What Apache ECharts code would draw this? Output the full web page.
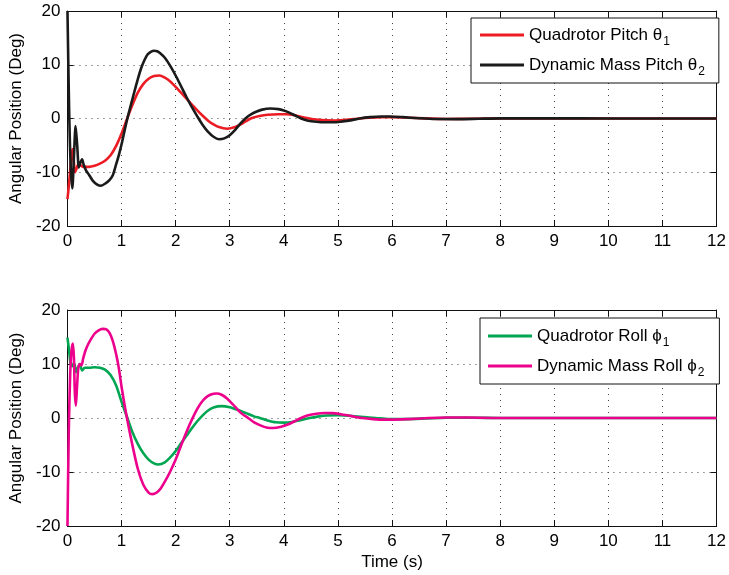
<!DOCTYPE html>
<html>
<head>
<meta charset="utf-8">
<script src="https://cdn.jsdelivr.net/npm/echarts@6/dist/echarts.min.js"></script>
<style>
  html, body { margin: 0; padding: 0; background: #fff; }
  #chart { width: 729px; height: 575px; }
</style>
</head>
<body>
<div id="chart"></div>
<script>
// Pitch response (deg) of the quadrotor body and the dynamic mass
const pitchQuadT = [0, 0.03, 0.06, 0.09, 0.11, 0.14, 0.17, 0.2, 0.24, 0.3, 0.4, 0.5, 0.6, 0.7, 0.8, 0.9, 1.0, 1.1, 1.2, 1.3, 1.4, 1.5, 1.6, 1.7, 1.8, 1.9, 2.0, 2.1, 2.2, 2.3, 2.4, 2.5, 2.6, 2.7, 2.8, 2.95, 3.1, 3.2, 3.3, 3.4, 3.55, 3.7, 3.9, 4.05, 4.2, 4.35, 4.47, 4.6, 4.8, 4.95, 5.1, 5.3, 5.5, 5.8, 6.0, 6.3, 6.6, 7.0, 7.5, 8, 9, 10, 12];
const pitchQuad = [-15, -12, -8.5, -5.7, -7, -10, -9.3, -8.5, -8.7, -9.0, -9.0, -8.8, -8.4, -7.8, -6.8, -5.1, -2.8, -0.1, 2.5, 4.8, 6.4, 7.4, 7.9, 8.0, 7.6, 6.9, 5.9, 4.8, 3.7, 2.6, 1.5, 0.5, -0.4, -1.1, -1.6, -1.9, -1.6, -1.1, -0.5, 0.05, 0.45, 0.7, 0.8, 0.8, 0.6, 0.25, 0, -0.2, -0.35, -0.37, -0.3, -0.1, 0.1, 0.23, 0.25, 0.15, 0.02, -0.08, -0.05, 0.02, 0.02, 0, 0];

const pitchMassT = [0, 0.03, 0.06, 0.09, 0.12, 0.15, 0.18, 0.21, 0.24, 0.27, 0.3, 0.35, 0.4, 0.47, 0.55, 0.62, 0.7, 0.78, 0.84, 0.9, 0.95, 1.0, 1.05, 1.11, 1.18, 1.24, 1.3, 1.36, 1.42, 1.48, 1.54, 1.6, 1.66, 1.72, 1.8, 1.9, 2.0, 2.1, 2.2, 2.3, 2.4, 2.5, 2.6, 2.7, 2.8, 2.9, 3.0, 3.1, 3.2, 3.3, 3.4, 3.5, 3.6, 3.75, 3.9, 4.0, 4.1, 4.2, 4.32, 4.45, 4.6, 4.75, 4.9, 5.05, 5.2, 5.4, 5.6, 5.8, 5.95, 6.2, 6.5, 6.8, 7.2, 7.6, 8, 9, 10, 11, 12];
const pitchMass = [20, 2, -9, -13, -7, -1.4, -5, -9.1, -8.2, -7.6, -8.6, -9.8, -10.5, -11.6, -12.3, -12.5, -12.1, -11.4, -10.5, -8.5, -6.8, -4.8, -2.5, 0.1, 2.8, 5.1, 7.3, 9.3, 10.8, 11.9, 12.4, 12.6, 12.5, 12.1, 11.3, 9.8, 8.0, 6.0, 4.0, 2.1, 0.4, -1.2, -2.5, -3.4, -3.85, -3.7, -3.1, -2.1, -0.9, 0.1, 0.8, 1.3, 1.65, 1.85, 1.75, 1.5, 1.1, 0.6, 0, -0.4, -0.6, -0.7, -0.7, -0.6, -0.4, 0, 0.25, 0.37, 0.37, 0.25, 0.05, -0.1, -0.12, -0.05, 0.03, 0.03, 0, 0, 0];

// Roll response (deg) of the quadrotor body and the dynamic mass
const rollQuadT = [0, 0.03, 0.06, 0.09, 0.12, 0.165, 0.2, 0.23, 0.27, 0.32, 0.4, 0.5, 0.6, 0.7, 0.8, 0.9, 1.0, 1.09, 1.2, 1.3, 1.4, 1.5, 1.6, 1.68, 1.8, 1.9, 2.0, 2.1, 2.2, 2.3, 2.4, 2.5, 2.6, 2.7, 2.85, 3.0, 3.15, 3.3, 3.45, 3.56, 3.7, 3.85, 4.0, 4.15, 4.3, 4.48, 4.65, 4.8, 5.0, 5.2, 5.45, 5.7, 5.95, 6.2, 6.6, 7.0, 7.5, 8, 9, 10, 12];
const rollQuad = [14.9, 12.5, 10, 9.6, 10.2, 8.5, 9.5, 10, 8.8, 9.3, 9.3, 9.4, 9.3, 8.9, 7.9, 6.0, 3.0, 0.5, -2.6, -4.8, -6.5, -7.7, -8.4, -8.6, -8.2, -7.3, -6.1, -4.7, -3.3, -1.9, -0.6, 0.5, 1.4, 1.95, 2.2, 2.0, 1.5, 0.9, 0.3, 0, -0.45, -0.8, -0.86, -0.75, -0.4, 0, 0.3, 0.45, 0.5, 0.42, 0.2, 0, -0.2, -0.2, -0.1, 0.05, 0.06, 0, 0, 0, 0];

const rollMassT = [0, 0.025, 0.05, 0.075, 0.1, 0.12, 0.135, 0.155, 0.175, 0.2, 0.23, 0.26, 0.29, 0.33, 0.38, 0.44, 0.5, 0.57, 0.65, 0.72, 0.78, 0.84, 0.9, 0.95, 1.0, 1.09, 1.2, 1.3, 1.4, 1.5, 1.57, 1.65, 1.72, 1.8, 1.9, 2.0, 2.1, 2.2, 2.3, 2.4, 2.5, 2.6, 2.7, 2.76, 2.85, 2.95, 3.05, 3.2, 3.34, 3.45, 3.6, 3.7, 3.8, 3.95, 4.1, 4.2, 4.32, 4.45, 4.6, 4.75, 4.9, 5.05, 5.25, 5.45, 5.65, 5.85, 6.0, 6.3, 6.6, 7.0, 7.4, 8, 9, 12];
const rollMass = [-20, -2, 8, 12.5, 13.8, 11, 5, 2.3, 5.5, 9.2, 10, 9.8, 11, 12.4, 13.6, 14.7, 15.6, 16.2, 16.5, 16.4, 15.7, 14.2, 11.8, 9.2, 5.8, 0.5, -5.0, -9.4, -12.3, -13.8, -14.1, -13.8, -13.1, -11.8, -9.9, -7.7, -5.1, -2.6, -0.3, 1.7, 3.2, 4.1, 4.5, 4.55, 4.3, 3.6, 2.6, 1.0, 0, -0.8, -1.5, -1.8, -1.85, -1.6, -1.1, -0.6, 0, 0.5, 0.8, 0.93, 0.9, 0.7, 0.35, 0, -0.2, -0.3, -0.3, -0.2, -0.05, 0.1, 0.08, 0, 0, 0];

// Legend labels: main text and subscript
const seriesNames = ['Quadrotor Pitch', 'Dynamic Mass Pitch', 'Quadrotor Roll', 'Dynamic Mass Roll'];
const legendMain = ['Quadrotor Pitch \u03b8', 'Dynamic Mass Pitch \u03b8', 'Quadrotor Roll \u03d5', 'Dynamic Mass Roll \u03d5'];
const legendSub = ['1', '2', '1', '2'];

const timeRange = [0, 12];
const angleRange = [-20, 20];
const yTitle = 'Angular Position (Deg)';
const xTitle = 'Time (s)';

const FONT = '"Liberation Sans", Arial, Helvetica, sans-serif';
const zip = (t, v) => t.map((x, i) => [x, v[i]]);

function baseAxis(extra) {
  return Object.assign({
    type: 'value',
    axisLine: { show: true, onZero: false, lineStyle: { color: '#111', width: 1 } },
    axisTick: { show: true, inside: true, length: 6, lineStyle: { color: '#111', width: 1 } },
    axisLabel: { show: true, color: '#000', fontSize: 17, fontFamily: FONT, margin: 7 },
    splitLine: { show: true, lineStyle: { color: '#444', width: 1, type: [1, 5] } }
  }, extra);
}
function mirrorAxis(extra) {
  const a = baseAxis(extra);
  a.axisLabel = { show: false };
  a.splitLine = { show: false };
  return a;
}

const xOpts = { min: timeRange[0], max: timeRange[1], interval: 1 };
const yOpts = { min: angleRange[0], max: angleRange[1], interval: 10 };

// subscript pushed down by top padding inside a fixed-height line
const legendRich = {
  m: { fontSize: 17, fontFamily: FONT, color: '#000', lineHeight: 24 },
  s: { fontSize: 12, fontFamily: FONT, color: '#000', lineHeight: 24, padding: [14, 0, 0, 1] }
};
const legendFormatter = name => {
  const i = seriesNames.indexOf(name);
  return '{m|' + legendMain[i] + '}{s|' + legendSub[i] + '}';
};

const legendBox = (names, left, top, pad) => ({
  data: names, orient: 'vertical', left, top,
  padding: pad, itemGap: 4, itemWidth: 44, itemHeight: 3, icon: 'rect',
  backgroundColor: '#fff', borderColor: '#111', borderWidth: 1, borderRadius: 0,
  formatter: legendFormatter, textStyle: { rich: legendRich }, selectedMode: false, z: 10
});

const lineSeries = (name, t, v, color, xi, yi, z) => ({
  name, type: 'line', xAxisIndex: xi, yAxisIndex: yi,
  data: zip(t, v), symbol: 'none', smooth: 0.25, z,
  lineStyle: { color, width: 2.6 }, itemStyle: { color },
  emphasis: { disabled: true }
});

const option = {
  animation: false,
  backgroundColor: '#fff',
  grid: [
    { left: 66, top: 11, width: 654, height: 215 },
    { left: 66, top: 310, width: 654, height: 216 }
  ],
  xAxis: [
    baseAxis(Object.assign({ gridIndex: 0, position: 'bottom' }, xOpts)),
    mirrorAxis(Object.assign({ gridIndex: 0, position: 'top' }, xOpts)),
    baseAxis(Object.assign({
      gridIndex: 1, position: 'bottom', name: xTitle, nameLocation: 'middle', nameGap: 28,
      nameTextStyle: { fontSize: 17, fontFamily: FONT, color: '#000' }
    }, xOpts)),
    mirrorAxis(Object.assign({ gridIndex: 1, position: 'top' }, xOpts))
  ],
  yAxis: [
    baseAxis(Object.assign({
      gridIndex: 0, position: 'left', name: yTitle, nameLocation: 'middle', nameGap: 29,
      nameTextStyle: { fontSize: 17, fontFamily: FONT, color: '#000' }
    }, yOpts)),
    mirrorAxis(Object.assign({ gridIndex: 0, position: 'right' }, yOpts)),
    baseAxis(Object.assign({
      gridIndex: 1, position: 'left', name: yTitle, nameLocation: 'middle', nameGap: 29,
      nameTextStyle: { fontSize: 17, fontFamily: FONT, color: '#000' }
    }, yOpts)),
    mirrorAxis(Object.assign({ gridIndex: 1, position: 'right' }, yOpts))
  ],
  legend: [
    legendBox([seriesNames[0], seriesNames[1]], 471, 18, [4, 14, 5, 9]),
    legendBox([seriesNames[2], seriesNames[3]], 480, 318, [5, 15, 5, 8])
  ],
  series: [
    lineSeries(seriesNames[0], pitchQuadT, pitchQuad, '#ec1c24', 0, 0, 2),
    lineSeries(seriesNames[1], pitchMassT, pitchMass, '#1a1a1a', 0, 0, 3),
    lineSeries(seriesNames[2], rollQuadT, rollQuad, '#00a651', 2, 2, 2),
    lineSeries(seriesNames[3], rollMassT, rollMass, '#ec008c', 2, 2, 3)
  ]
};

const chart = echarts.init(document.getElementById('chart'), null, { renderer: 'canvas', devicePixelRatio: 1 });
chart.setOption(option);
</script>
</body>
</html>
